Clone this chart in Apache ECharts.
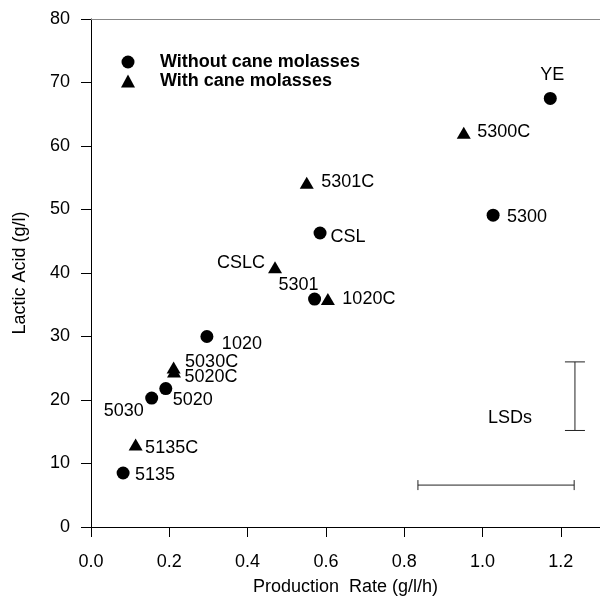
<!DOCTYPE html>
<html>
<head>
<meta charset="utf-8">
<script src="https://cdn.jsdelivr.net/npm/echarts@6/dist/echarts.min.js"></script>
<style>
  html, body { margin: 0; padding: 0; background: #fff; }
  #main { width: 600px; height: 597px; }
</style>
</head>
<body>
<div id="main"></div>
<script>
// 没有甘蔗糖蜜
const plainNames = ['5135', '5030', '5020', '1020', '5301', 'CSL', '5300', 'YE']
const plainRate = [0.082, 0.155, 0.191, 0.296, 0.571, 0.585, 1.027, 1.173]
const plainAcid = [8.5, 20.3, 21.8, 30.0, 35.9, 46.3, 49.1, 67.5]

// 加甘蔗糖蜜
const cmNames = ['5135C', '5030C', '5020C', 'CSLC', '1020C', '5301C', '5300C']
const cmRate = [0.114, 0.211, 0.212, 0.47, 0.605, 0.551, 0.952]
const cmAcid = [13.0, 25.1, 24.5, 40.9, 35.9, 54.2, 62.1]

// LSD 误差线
const lsdAcid = [1.236, 15.2, 26.0]   // x, y低, y高
const lsdRate = [6.6, 0.835, 1.234]   // y, x低, x高

const xTicks = [0, 0.2, 0.4, 0.6, 0.8, 1.0, 1.2]

// 标签相对点中心的偏移(像素)
const labelOffset = {
  '5135': [32, 2], '5030': [-28, 13], '5020': [27, 11], '1020': [35, 8],
  '5301': [-16, -14], 'CSL': [28, 4], '5300': [34, 2], 'YE': [2, -23],
  '5135C': [36, 4], '5030C': [38, -6], '5020C': [37, 6], 'CSLC': [-34, -4],
  '1020C': [41, 0], '5301C': [41, -1], '5300C': [40, -1]
}

const font = 'Liberation Sans, Arial, sans-serif'

function points(names, xs, ys) {
  return names.map((n, i) => ({
    name: n,
    value: [xs[i], ys[i]],
    label: {offset: labelOffset[n]}
  }))
}

const pointLabel = {
  show: true,
  position: 'inside',
  formatter: p => p.name,
  color: '#000',
  fontSize: 18,
  fontFamily: font
}

let chart = echarts.init(document.getElementById('main'))
let option = {
  animation: false,
  grid: {left: 91, right: 0, top: 19, bottom: 70, outerBoundsMode: 'none'},
  legend: {
    orient: 'vertical',
    left: 116,
    top: 48,
    itemWidth: 14,
    itemHeight: 13,
    itemGap: 1,
    textStyle: {
      fontSize: 18, fontWeight: 'bold', color: '#000', fontFamily: font,
      lineHeight: 18, padding: [0, 0, 0, 20]
    },
    data: [
      {name: 'Without cane molasses', icon: 'circle'},
      {name: 'With cane molasses', icon: 'triangle'}
    ]
  },
  xAxis: [
    {
      type: 'value', min: 0, max: 1.3,
      name: 'Production  Rate (g/l/h)', nameLocation: 'middle', nameGap: 51,
      nameTextStyle: {fontSize: 18, color: '#000', fontFamily: font},
      axisLine: {lineStyle: {color: '#000', width: 1}},
      axisTick: {show: true, length: 10, lineStyle: {color: '#000'}, customValues: xTicks},
      axisLabel: {
        color: '#000', fontSize: 18, fontFamily: font, margin: 26,
        customValues: xTicks, formatter: v => v.toFixed(1)
      },
      splitLine: {show: false}
    },
    {
      type: 'value', min: 0, max: 1.3, position: 'top',
      axisLine: {lineStyle: {color: '#888', width: 1}},
      axisTick: {show: false}, axisLabel: {show: false}, splitLine: {show: false}
    }
  ],
  yAxis: {
    type: 'value', min: 0, max: 80, interval: 10,
    name: 'Lactic Acid (g/l)', nameLocation: 'middle', nameGap: 62,
    nameTextStyle: {fontSize: 18, color: '#000', fontFamily: font},
    axisLine: {show: true, lineStyle: {color: '#000', width: 1}},
    axisTick: {show: true, length: 10, lineStyle: {color: '#000'}},
    axisLabel: {color: '#000', fontSize: 18, fontFamily: font, margin: 21},
    splitLine: {show: false}
  },
  series: [
    {
      name: 'Without cane molasses',
      type: 'scatter',
      symbol: 'circle',
      symbolSize: 13,
      itemStyle: {color: '#000', opacity: 1},
      label: pointLabel,
      data: points(plainNames, plainRate, plainAcid)
    },
    {
      name: 'With cane molasses',
      type: 'scatter',
      symbol: 'triangle',
      symbolSize: [14, 12],
      itemStyle: {color: '#000', opacity: 1},
      label: pointLabel,
      data: points(cmNames, cmRate, cmAcid)
    },
    {
      type: 'custom',
      silent: true,
      data: [[lsdAcid[0], lsdAcid[1], lsdAcid[2], 0]],
      renderItem: function (params, api) {
        let lo = api.coord([api.value(0), api.value(1)])
        let hi = api.coord([api.value(0), api.value(2)])
        let style = {stroke: '#222', lineWidth: 1}
        return {
          type: 'group',
          children: [
            {type: 'line', shape: {x1: lo[0], y1: lo[1], x2: hi[0], y2: hi[1]}, style},
            {type: 'line', shape: {x1: lo[0] - 10, y1: lo[1], x2: lo[0] + 10, y2: lo[1]}, style},
            {type: 'line', shape: {x1: hi[0] - 10, y1: hi[1], x2: hi[0] + 10, y2: hi[1]}, style}
          ]
        }
      }
    },
    {
      type: 'custom',
      silent: true,
      data: [[lsdRate[1], lsdRate[2], lsdRate[0]]],
      renderItem: function (params, api) {
        let lo = api.coord([api.value(0), api.value(2)])
        let hi = api.coord([api.value(1), api.value(2)])
        let style = {stroke: '#222', lineWidth: 1}
        return {
          type: 'group',
          children: [
            {type: 'line', shape: {x1: lo[0], y1: lo[1], x2: hi[0], y2: hi[1]}, style},
            {type: 'line', shape: {x1: lo[0], y1: lo[1] - 5, x2: lo[0], y2: lo[1] + 5}, style},
            {type: 'line', shape: {x1: hi[0], y1: hi[1] - 5, x2: hi[0], y2: hi[1] + 5}, style}
          ]
        }
      }
    },
    {
      type: 'scatter',
      silent: true,
      symbolSize: 0,
      itemStyle: {opacity: 1},
      label: {show: true, position: 'inside', formatter: 'LSDs', color: '#000', fontSize: 18, fontFamily: font},
      data: [[1.07, 17.1]]
    }
  ]
}

window.onresize = chart.resize
option && chart.setOption(option)
</script>
</body>
</html>
